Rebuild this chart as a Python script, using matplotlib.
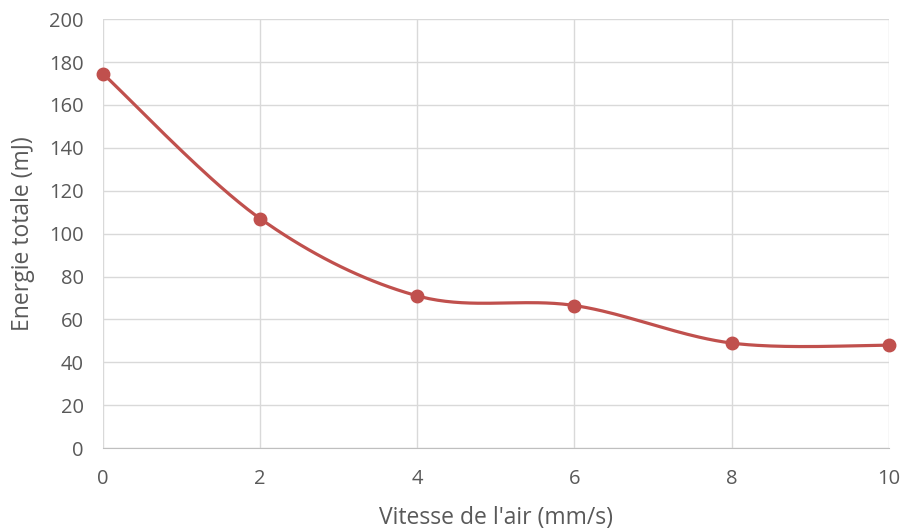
import numpy as np
import matplotlib
matplotlib.use("Agg")
from matplotlib import pyplot as plt

vitesse = [0, 2, 4, 6, 8, 10]
energie = [174.5, 107, 71, 66.5, 49, 48]


def smooth(xs, ys, n=40):
    # Excel-style smoothed line (cardinal Bezier through the points)
    xs = np.asarray(xs, float)
    ys = np.asarray(ys, float)
    px = np.concatenate([[xs[0]], xs, [xs[-1]]])
    py = np.concatenate([[ys[0]], ys, [ys[-1]]])
    ox, oy = [], []
    t = np.linspace(0, 1, n)
    for i in range(1, len(px) - 2):
        p0 = np.array([px[i], py[i]])
        p3 = np.array([px[i + 1], py[i + 1]])
        c1 = p0 + (p3 - np.array([px[i - 1], py[i - 1]])) / 6
        c2 = p3 - (np.array([px[i + 2], py[i + 2]]) - p0) / 6
        b = ((1 - t) ** 3)[:, None] * p0 + (3 * (1 - t) ** 2 * t)[:, None] * c1 \
            + (3 * (1 - t) * t ** 2)[:, None] * c2 + (t ** 3)[:, None] * p3
        ox.extend(b[:, 0])
        oy.extend(b[:, 1])
    return ox, oy


plt.rcParams['font.family'] = ['Open Sans', 'DejaVu Sans']
fig = plt.figure(figsize=(9.04, 5.31), dpi=100)
ax = fig.add_axes([0.114, 0.156, 0.869, 0.808])

sx, sy = smooth(vitesse, energie)
ax.plot(sx, sy, color='#c0504d', lw=2.3, solid_capstyle='round', zorder=3)
ax.plot(vitesse, energie, 'o', color='#c0504d', ms=9, zorder=4, clip_on=False)

ax.set_xlim(0, 10)
ax.set_ylim(0, 200)
ax.set_xticks(range(0, 11, 2))
ax.set_yticks(range(0, 201, 20))
ax.grid(True, color='#d9d9d9', lw=1)
ax.set_axisbelow(True)
for s in ['left', 'right', 'top']:
    ax.spines[s].set_visible(False)
ax.spines['bottom'].set_color('#bfbfbf')
ax.tick_params(length=0, labelsize=14.5, colors='#595959')
ax.tick_params(axis='x', pad=15)
ax.tick_params(axis='y', pad=14)
ax.set_xlabel("Vitesse de l'air (mm/s)", fontsize=16.5, color='#595959', labelpad=12)
ax.set_ylabel("Energie totale (mJ)", fontsize=16.5, color='#595959', labelpad=10)

fig.savefig('out.png', dpi=100, facecolor='white')
